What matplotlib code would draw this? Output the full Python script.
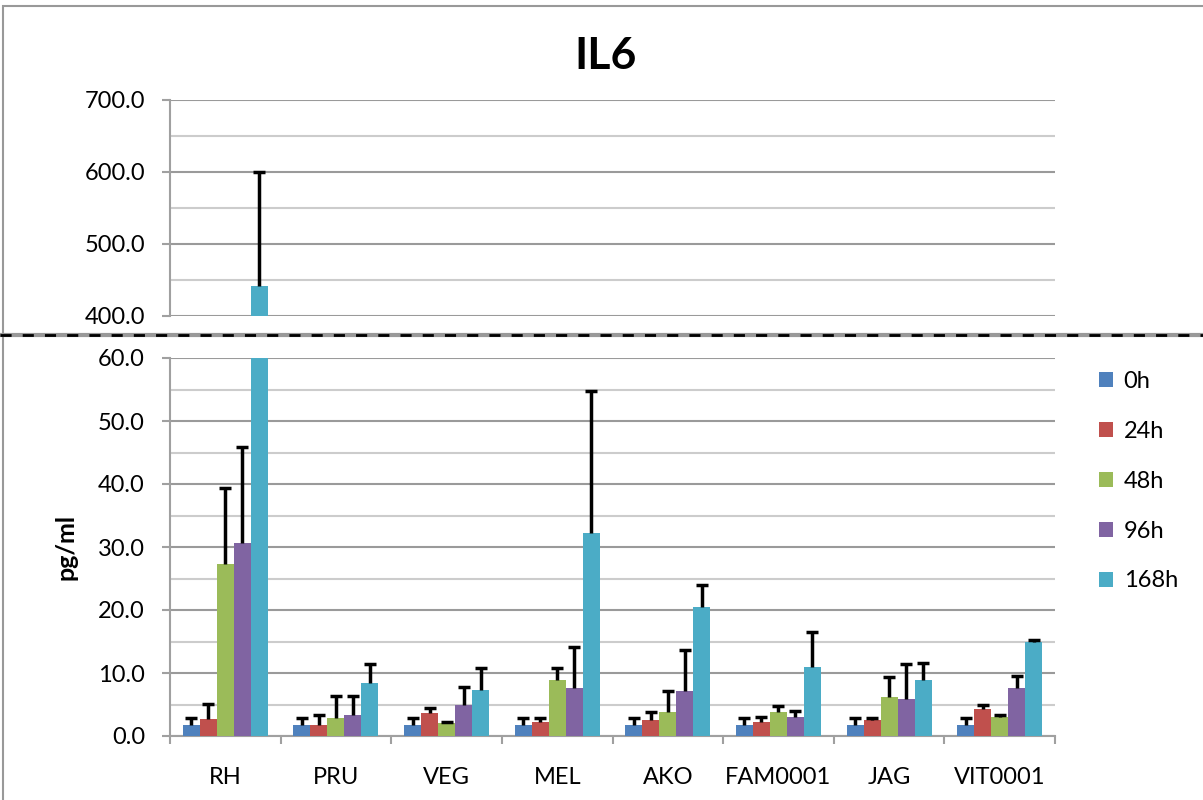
import numpy as np
import matplotlib.pyplot as plt
from matplotlib.lines import Line2D
from matplotlib.patches import Rectangle

plt.rcParams['font.family'] = ['Lato', 'DejaVu Sans']

categories = ["RH", "PRU", "VEG", "MEL", "AKO", "FAM0001", "JAG", "VIT0001"]
series = ["0h", "24h", "48h", "96h", "168h"]

h0 = [1.7, 1.7, 1.7, 1.7, 1.7, 1.7, 1.7, 1.7]
h0_err = [1.2, 1.2, 1.2, 1.2, 1.2, 1.2, 1.2, 1.2]
h24 = [2.7, 1.7, 3.6, 2.2, 2.5, 2.2, 2.5, 4.3]
h24_err = [2.4, 1.6, 0.9, 0.6, 1.3, 0.8, 0.4, 0.7]
h48 = [27.3, 2.9, 2.0, 8.9, 3.8, 3.8, 6.2, 3.0]
h48_err = [12.1, 3.4, 0.3, 1.9, 3.3, 0.9, 3.1, 0.3]
h96 = [30.6, 3.3, 4.9, 7.6, 7.1, 3.0, 5.9, 7.6]
h96_err = [15.3, 3.1, 2.8, 6.6, 6.5, 1.0, 5.5, 1.9]
h168 = [441.6, 8.4, 7.3, 32.2, 20.5, 10.9, 8.9, 15.0]
h168_err = [158.4, 3.1, 3.5, 22.6, 3.5, 5.6, 2.7, 0.3]

means = [h0, h24, h48, h96, h168]
errs = [h0_err, h24_err, h48_err, h96_err, h168_err]
colors = ["#4F81BD", "#C0504D", "#9BBB59", "#8064A2", "#4BACC6"]

fig = plt.figure(figsize=(12.03, 8), dpi=100)
ax_top = fig.add_axes([0.1413, 0.605, 0.7357, 0.27])
ax_bot = fig.add_axes([0.1413, 0.08, 0.7357, 0.4725])

x = np.arange(len(categories))
w = 1 / 6.5
for ax in (ax_top, ax_bot):
    for i in range(5):
        pos = x + (i - 2) * w
        m = np.array(means[i])
        top = m + np.array(errs[i])
        ax.bar(pos, m, w, color=colors[i], label=series[i], zorder=3)
        # upper error bars only, cap at the top
        ax.vlines(pos, m, top, color='black', linewidth=2.5, zorder=4)
        ax.plot(pos, top, linestyle='none', marker='_', markersize=9,
                markeredgewidth=2.5, color='black', zorder=4)
    ax.set_xlim(-0.5, len(categories) - 0.5)
    for s in ["top", "right"]:
        ax.spines[s].set_visible(False)
    ax.spines["left"].set_color("#a0a0a0")
    ax.spines["left"].set_linewidth(1.5)
    ax.tick_params(axis='y', labelsize=17, color="#a0a0a0", width=1.5, length=6, pad=12)
    ax.grid(True, axis='y', which='major', color="#9a9a9a", linewidth=1.5, zorder=0)
    ax.grid(True, axis='y', which='minor', color="#cccccc", linewidth=1.5, zorder=0)
    ax.tick_params(axis='y', which='minor', length=0)
    ax.set_axisbelow(True)

# top panel
ax_top.set_ylim(400, 700)
ax_top.set_yticks([400, 500, 600, 700])
ax_top.set_yticks([450, 550, 650], minor=True)
ax_top.set_yticklabels(["400.0", "500.0", "600.0", "700.0"])
ax_top.spines["bottom"].set_visible(False)
ax_top.set_xticks([])

# bottom panel
ax_bot.set_ylim(0, 60)
ax_bot.set_yticks(np.arange(0, 61, 10))
ax_bot.set_yticks(np.arange(5, 60, 10), minor=True)
ax_bot.set_yticklabels(["%.1f" % v for v in np.arange(0, 61, 10)])
ax_bot.set_xticks(x)
ax_bot.set_xticklabels(categories)
ax_bot.set_xticks(np.arange(-0.5, len(categories), 1), minor=True)
ax_bot.tick_params(axis='x', which='major', length=0, labelsize=17, pad=22)
ax_bot.tick_params(axis='x', which='minor', length=6, color="#a0a0a0", width=1.5)
ax_bot.spines["bottom"].set_color("#a0a0a0")
ax_bot.spines["bottom"].set_linewidth(1.5)
fig.text(66 / 1203, 1 - 547 / 800, "pg/ml", fontsize=18, fontweight='bold',
         rotation=90, ha='center', va='center')

fig.text(0.503, 0.93, "IL6", fontsize=32, fontweight='bold', ha='center', va='center')

# axis break marker
fig.add_artist(Line2D([0, 1], [0.5813, 0.5813], color="#999999", linewidth=3))
fig.add_artist(Line2D([0, 1], [0.5813, 0.5813], color="black", linewidth=2, linestyle=(0, (4, 4))))

# chart border
fig.add_artist(Rectangle((0.0025, -0.1), 1.2, 1.0925, transform=fig.transFigure,
                         fill=False, edgecolor="#999999", linewidth=1.5))

handles, labels = ax_bot.get_legend_handles_labels()
fig.legend(handles[:5], labels[:5], loc='upper left', bbox_to_anchor=(0.9135, 0.536),
           frameon=False, fontsize=17, handlelength=0.6, handleheight=0.6,
           handletextpad=0.45, labelspacing=1.22, borderpad=0, borderaxespad=0)

plt.savefig("out.png", dpi=100)
